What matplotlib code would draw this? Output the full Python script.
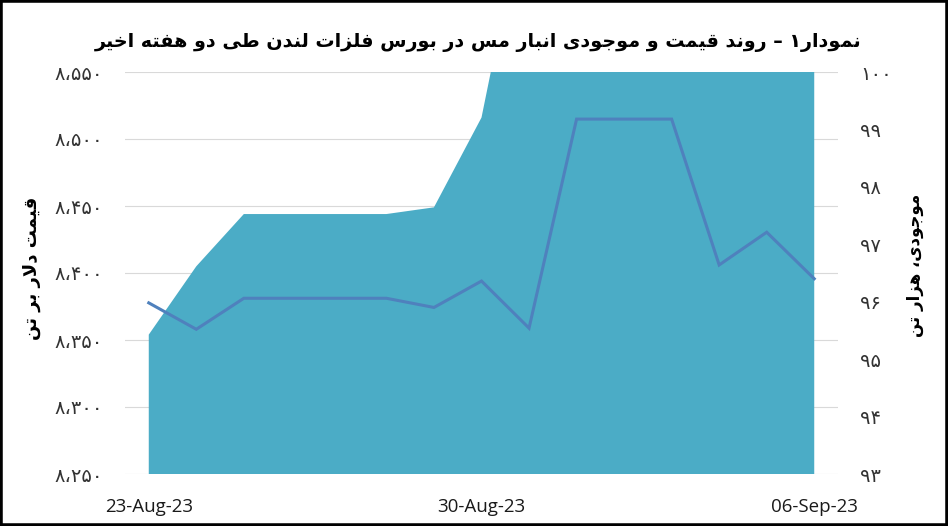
import matplotlib
matplotlib.use("Agg")
import matplotlib.pyplot as plt
import matplotlib.dates as mdates
from matplotlib.ticker import FuncFormatter, MultipleLocator
from matplotlib.patches import Rectangle
import pandas as pd

# data (area = price, line = LME stock)
dates = pd.date_range("2023-08-23", "2023-09-06", freq="D")
price = [8354, 8405, 8444, 8444, 8444, 8444, 8449, 8516,
         8690, 8700, 8700, 8700, 8690, 8680, 8670]
stock = [95.98, 95.52, 96.06, 96.06, 96.06, 96.06, 95.90, 96.36,
         95.54, 99.18, 99.18, 99.18, 96.64, 97.21, 96.40]
tick_dates = ["2023-08-23", "2023-08-30", "2023-09-06"]

title_fa = "نمودار۱ – روند قیمت و موجودی انبار مس در بورس فلزات لندن طی دو هفته اخیر"
left_label_fa = "قیمت دلار بر تن"
right_label_fa = "موجودی، هزار تن"

# minimal persian shaping: isolated, final, initial, medial
FORMS = {
    "ا": ("\uFE8D", "\uFE8E", None, None),
    "ب": ("\uFE8F", "\uFE90", "\uFE91", "\uFE92"),
    "ت": ("\uFE95", "\uFE96", "\uFE97", "\uFE98"),
    "ج": ("\uFE9D", "\uFE9E", "\uFE9F", "\uFEA0"),
    "خ": ("\uFEA5", "\uFEA6", "\uFEA7", "\uFEA8"),
    "د": ("\uFEA9", "\uFEAA", None, None),
    "ر": ("\uFEAD", "\uFEAE", None, None),
    "ز": ("\uFEAF", "\uFEB0", None, None),
    "س": ("\uFEB1", "\uFEB2", "\uFEB3", "\uFEB4"),
    "ط": ("\uFEC1", "\uFEC2", "\uFEC3", "\uFEC4"),
    "ف": ("\uFED1", "\uFED2", "\uFED3", "\uFED4"),
    "ق": ("\uFED5", "\uFED6", "\uFED7", "\uFED8"),
    "ل": ("\uFEDD", "\uFEDE", "\uFEDF", "\uFEE0"),
    "م": ("\uFEE1", "\uFEE2", "\uFEE3", "\uFEE4"),
    "ن": ("\uFEE5", "\uFEE6", "\uFEE7", "\uFEE8"),
    "ه": ("\uFEE9", "\uFEEA", "\uFEEB", "\uFEEC"),
    "و": ("\uFEED", "\uFEEE", None, None),
    "ی": ("\uFEEF", "\uFEF0", "\uFEF3", "\uFEF4"),
}


def dual(ch):
    return ch in FORMS and FORMS[ch][2] is not None


def shape_fa(text):
    out = []
    i = 0
    n = len(text)
    while i < n:
        c = text[i]
        prev = text[i - 1] if i > 0 else ""
        join_prev = dual(prev)
        if c == "ل" and i + 1 < n and text[i + 1] == "ا":
            out.append("\uFEFC" if join_prev else "\uFEFB")
            i += 2
            continue
        if c not in FORMS:
            out.append(c)
            i += 1
            continue
        nxt = text[i + 1] if i + 1 < n else ""
        join_next = dual(c) and nxt in FORMS
        iso, fin, ini, med = FORMS[c]
        if join_prev and join_next:
            out.append(med)
        elif join_prev:
            out.append(fin)
        elif join_next:
            out.append(ini)
        else:
            out.append(iso)
        i += 1
    return "".join(reversed(out))


FA_DIGITS = str.maketrans("0123456789,", "۰۱۲۳۴۵۶۷۸۹،")


def fa_num(v, pos=None):
    return f"{v:,.0f}".translate(FA_DIGITS)


fa_font = ["DejaVu Sans"]

fig = plt.figure(figsize=(9.48, 5.26), dpi=100)
ax = fig.add_axes([125 / 948, 1 - 474 / 526, 713 / 948, 402 / 526])
ax2 = ax.twinx()

ax.fill_between(dates, price, 8250, color="#4BACC6", lw=0)
ax2.plot(dates, stock, color="#4F81BD", lw=2.2, solid_joinstyle="miter")

ax.set_ylim(8250, 8550)
ax2.set_ylim(93, 100)
ax.set_xlim(dates[0] - pd.Timedelta(hours=12), dates[-1] + pd.Timedelta(hours=12))

ax.yaxis.set_major_locator(MultipleLocator(50))
ax2.yaxis.set_major_locator(MultipleLocator(1))
ax.yaxis.set_major_formatter(FuncFormatter(fa_num))
ax2.yaxis.set_major_formatter(FuncFormatter(fa_num))

ax.set_axisbelow(True)
ax.grid(axis="y", color="#D9D9D9", lw=0.8)

ax.set_xticks(pd.to_datetime(tick_dates))
ax.xaxis.set_major_formatter(mdates.DateFormatter("%d-%b-%y"))

for a in (ax, ax2):
    for s in a.spines.values():
        s.set_visible(False)
    a.tick_params(length=0)

ax.tick_params(axis="x", pad=17, labelsize=13.5)
for lab in ax.get_xticklabels():
    lab.set_family("Open Sans")
    lab.set_color("#1a1a1a")
ax.tick_params(axis="y", pad=16, labelsize=14, labelcolor="#333333")
ax2.tick_params(axis="y", pad=16, labelsize=14, labelcolor="#333333")
for lab in ax.get_yticklabels() + ax2.get_yticklabels():
    lab.set_family(fa_font)

fig.text(0.504, 1 - 42 / 526, shape_fa(title_fa), ha="center", va="center",
         fontsize=13.8, fontweight="bold", family=fa_font)
fig.text(32 / 948, 1 - 268 / 526, shape_fa(left_label_fa), rotation=90,
         ha="center", va="center", fontsize=13, fontweight="bold", family=fa_font)
fig.text(915 / 948, 1 - 265 / 526, shape_fa(right_label_fa), rotation=90,
         ha="center", va="center", fontsize=12, fontweight="bold", family=fa_font)

fig.add_artist(Rectangle((0, 0), 1, 1, transform=fig.transFigure, fill=False,
                         lw=4, ec="black"))

fig.savefig("out.png", dpi=100)
